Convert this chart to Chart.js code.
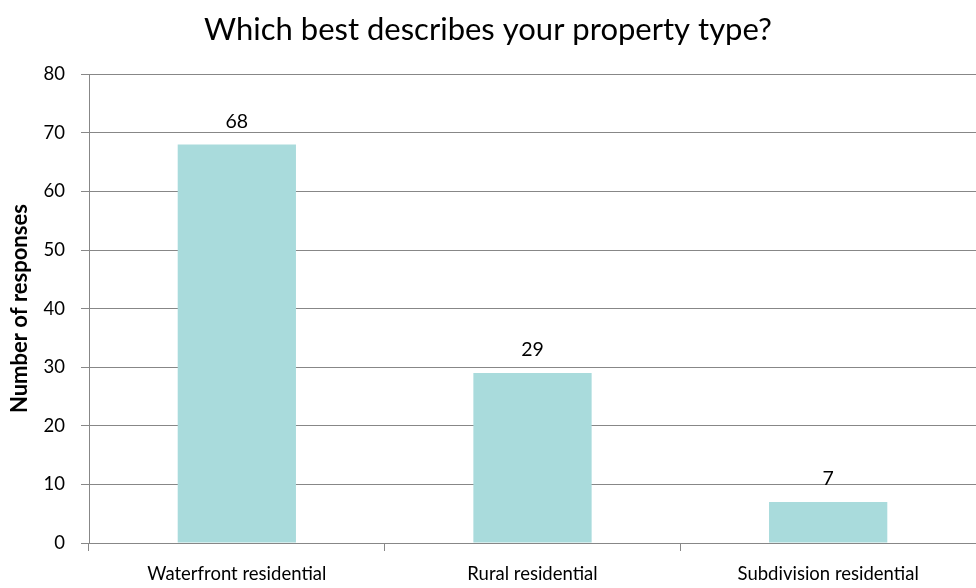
<!DOCTYPE html>
<html>
<head>
<meta charset="utf-8">
<script src="https://cdn.jsdelivr.net/npm/chart.js@4"></script>
<style>
  html, body { margin: 0; padding: 0; background: #fff; }
  #wrap { width: 976px; height: 588px; }
</style>
</head>
<body>
<div id="wrap"><canvas id="chart"></canvas></div>
<script>
const categories = ["Waterfront residential", "Rural residential", "Subdivision residential"];
const responses = [68, 29, 7];
const yTicks = [0, 10, 20, 30, 40, 50, 60, 70, 80];

const gridGray = "#878787";

// writes each bar's value just above it
const valueLabels = {
  id: "valueLabels",
  afterDatasetsDraw(chart) {
    const ctx = chart.ctx;
    const meta = chart.getDatasetMeta(0);
    ctx.save();
    ctx.font = "19.5px Lato";
    ctx.fillStyle = "#000";
    ctx.textAlign = "center";
    ctx.textBaseline = "alphabetic";
    meta.data.forEach((bar, i) => {
      ctx.fillText(String(chart.data.datasets[0].data[i]), bar.x, bar.y - 17);
    });
    ctx.restore();
  }
};

new Chart(document.getElementById("chart"), {
  type: "bar",
  data: {
    labels: categories,
    datasets: [{
      data: responses,
      backgroundColor: "#a9dbdc",
      categoryPercentage: 1,
      barPercentage: 0.4
    }]
  },
  options: {
    responsive: true,
    maintainAspectRatio: false,
    animation: false,
    layout: { padding: 0 },
    plugins: {
      legend: { display: false },
      tooltip: { enabled: false },
      title: {
        display: true,
        text: "Which best describes your property type?",
        color: "#000",
        font: { family: "Lato", size: 31, weight: "normal", lineHeight: 1.2 },
        padding: { top: 11, bottom: 26 }
      }
    },
    scales: {
      x: {
        offset: true,
        grid: { display: true, drawOnChartArea: false, drawTicks: true, tickLength: 8, color: gridGray, offset: true },
        border: { color: gridGray, width: 1 },
        ticks: { color: "#000", font: { family: "Lato", size: 18.5 }, padding: 12, maxRotation: 0 },
        afterFit(s) { s.height = 45; }
      },
      y: {
        min: 0,
        max: 80,
        afterBuildTicks(s) { s.ticks = yTicks.map(v => ({ value: v })); },
        grid: { color: gridGray, tickLength: 8 },
        border: { color: gridGray, width: 1 },
        ticks: { color: "#000", font: { family: "Lato", size: 18.5 }, padding: 16 },
        title: {
          display: true,
          text: "Number of responses",
          color: "#000",
          font: { family: "Lato", size: 22, weight: "bold" },
          padding: { top: 7, bottom: 0 }
        },
        afterFit(s) { s.width = 89; }
      }
    }
  },
  plugins: [valueLabels]
});
</script>
</body>
</html>
